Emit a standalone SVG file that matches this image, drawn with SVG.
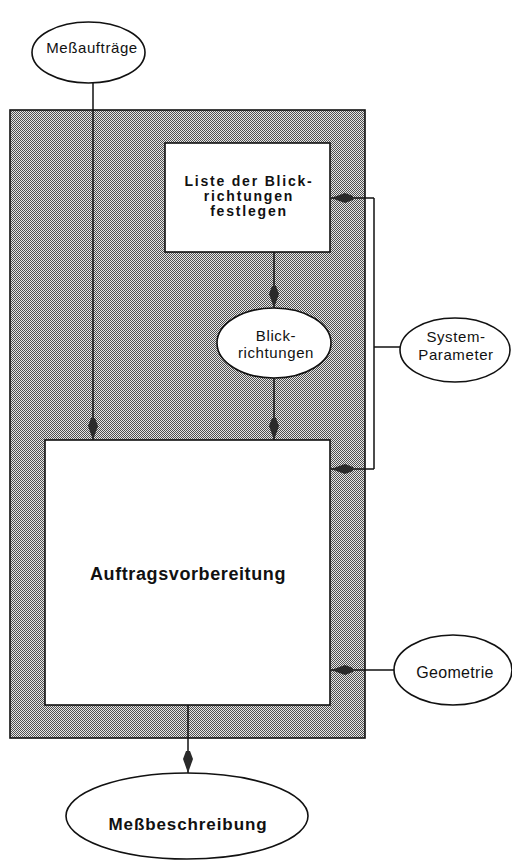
<svg xmlns="http://www.w3.org/2000/svg" width="512" height="861" viewBox="0 0 512 861">
<style>
.ln{stroke:#111;stroke-width:1.5;fill:none}
.box{fill:#fff;stroke:#111;stroke-width:1.6}
.el{fill:#fff;stroke:#111;stroke-width:1.6}
.t{font-family:"Liberation Sans",Arial,sans-serif;fill:#111;text-anchor:middle}
.r{font-size:15px;letter-spacing:0.6px}
.b{font-weight:bold}
.lb{font-size:14px;font-weight:bold;letter-spacing:1.8px}
</style>
<defs>
<pattern id="dith" width="2" height="2" patternUnits="userSpaceOnUse">
<rect width="2" height="2" fill="#e6e6e6"/>
<rect x="0" y="0" width="1" height="1" fill="#505050"/>
<rect x="1" y="1" width="1" height="1" fill="#505050"/>
</pattern>
<marker id="ah" viewBox="0 0 22 10" refX="22" refY="5" markerWidth="22" markerHeight="10" orient="auto" markerUnits="userSpaceOnUse">
<path d="M0,3 L8,0 L22,5 L8,10 L0,7 z" fill="#2a2a2a"/>
</marker>
</defs>
<g id="gehaeuse">
<rect x="10" y="110" width="355" height="628" fill="url(#dith)" stroke="#111" stroke-width="1.6"/>
</g>
<g id="liste">
<rect class="box" x="165" y="143" width="165" height="109"/>
<text class="t lb" x="249" y="186">Liste der Blick-</text>
<text class="t lb" x="249" y="201">richtungen</text>
<text class="t lb" x="249" y="216">festlegen</text>
</g>
<g id="auftragsvorbereitung">
<rect class="box" x="45" y="440" width="285" height="265"/>
<text class="t b" font-size="18" letter-spacing="0.6" x="188" y="580">Auftragsvorbereitung</text>
</g>
<g id="messauftraege">
<ellipse class="el" cx="88.5" cy="52.5" rx="56.5" ry="30.5"/>
<text class="t r" x="92" y="53">Meßaufträge</text>
</g>
<g id="blickrichtungen">
<ellipse class="el" cx="274" cy="343" rx="57" ry="35"/>
<text class="t r" x="276" y="341">Blick-</text>
<text class="t r" x="276" y="358">richtungen</text>
</g>
<g id="systemparameter">
<ellipse class="el" cx="455" cy="350" rx="55" ry="32"/>
<text class="t r" x="456" y="342">System-</text>
<text class="t r" x="456" y="360">Parameter</text>
</g>
<g id="geometrie">
<ellipse class="el" cx="453" cy="670" rx="59" ry="35"/>
<text class="t" font-size="16" letter-spacing="0.3" x="455" y="678">Geometrie</text>
</g>
<g id="messbeschreibung">
<ellipse class="el" cx="187" cy="816" rx="121" ry="43"/>
<text class="t b" font-size="17" letter-spacing="0.9" x="188" y="830">Meßbeschreibung</text>
</g>
<g id="connectors">
<path class="ln" d="M93,83 L93,440" marker-end="url(#ah)"/>
<path class="ln" d="M274,252 L274,308" marker-end="url(#ah)"/>
<path class="ln" d="M274,378 L274,440" marker-end="url(#ah)"/>
<path class="ln" d="M188,705 L188,773" marker-end="url(#ah)"/>
<path class="ln" d="M374,198 L374,469"/>
<path class="ln" d="M400,347 L374,347"/>
<path class="ln" d="M374,198 L331,198" marker-end="url(#ah)"/>
<path class="ln" d="M374,469 L331,469" marker-end="url(#ah)"/>
<path class="ln" d="M394,670 L331,670" marker-end="url(#ah)"/>
</g>
</svg>
